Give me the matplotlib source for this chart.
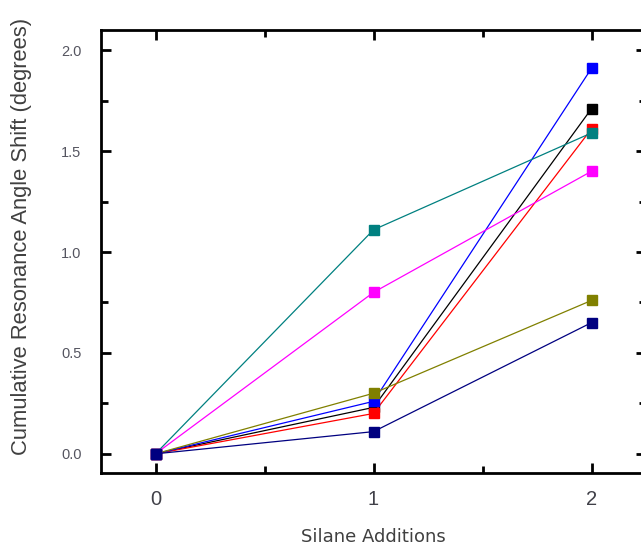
import matplotlib
matplotlib.use("Agg")
import matplotlib.pyplot as plt
from matplotlib.ticker import MultipleLocator

plt.rcParams["font.family"] = ["Liberation Sans", "DejaVu Sans"]

additions = [0, 1, 2]

# cumulative shift per run (degrees)
black = [0, 0.23, 1.71]
red = [0, 0.20, 1.61]
blue = [0, 0.26, 1.91]
olive = [0, 0.30, 0.76]
teal = [0, 1.11, 1.59]
magenta = [0, 0.80, 1.40]
navy = [0, 0.11, 0.65]

series = [
    (black, "#000000"),
    (red, "#FF0000"),
    (blue, "#0000FF"),
    (olive, "#808000"),
    (teal, "#008080"),
    (magenta, "#FF00FF"),
    (navy, "#000080"),
]

fig = plt.figure(figsize=(6.41, 5.48), dpi=100)
ax = fig.add_axes([101 / 641, 75 / 548, 545 / 641, 443 / 548])

for ys, c in series:
    ax.plot(additions, ys, color=c, lw=0.9, marker="s", ms=6.8, mec=c, mfc=c)

ax.set_xlim(-0.25, 2.25)
ax.set_ylim(-0.095, 2.1)
ax.xaxis.set_major_locator(MultipleLocator(1))
ax.xaxis.set_minor_locator(MultipleLocator(0.5))
ax.yaxis.set_major_locator(MultipleLocator(0.5))
ax.yaxis.set_minor_locator(MultipleLocator(0.25))
ax.yaxis.set_major_formatter(matplotlib.ticker.FormatStrFormatter("%.1f"))

for s in ax.spines.values():
    s.set_linewidth(2)
ax.tick_params(which="both", direction="in", top=True, right=True, width=2)
ax.tick_params(which="major", length=7)
ax.tick_params(which="minor", length=5)
ax.tick_params(axis="x", labelsize=14.5, labelcolor="#404048", pad=12)
ax.tick_params(axis="y", labelsize=10.5, labelcolor="#555560", pad=14)

ax.set_ylabel("Cumulative Resonance Angle Shift (degrees)", fontsize=15.8,
              color="#404040")
ax.yaxis.set_label_coords(-0.127, 0.535)
ax.set_xlabel("Silane Additions", fontsize=13, color="#404040",
              family=["DejaVu Sans"])
ax.xaxis.set_label_coords(0.5, -0.124)

fig.savefig("out.png", dpi=100)
